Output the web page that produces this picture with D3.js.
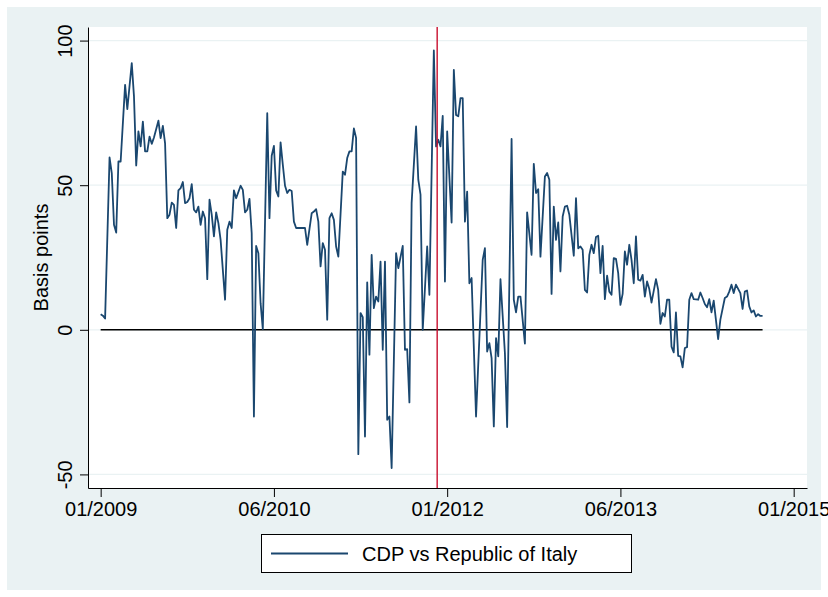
<!DOCTYPE html>
<html>
<head>
<meta charset="utf-8">
<script src="https://cdn.jsdelivr.net/npm/d3@7"></script>
<style>
  html, body { margin: 0; padding: 0; background: #ffffff; }
  svg { display: block; font-family: "Liberation Sans", Arial, Helvetica, sans-serif; }
</style>
</head>
<body>
<svg id="chart" width="828" height="597"></svg>
<script>
// Weekly spread, CDP bonds vs Republic of Italy (basis points).
// Weeks are counted from the first week of 2009 (52 weeks per year).
const weeks = [
  0, 1, 2, 4, 5, 6, 7, 8, 9, 11, 12, 14, 15, 16, 17, 18, 19, 20, 21, 22,
  23, 24, 26, 27, 28, 29, 30, 31, 32, 33, 34, 35, 36, 37, 38, 39, 40, 41, 42, 43,
  44, 45, 46, 47, 48, 49, 50, 51, 52, 53, 54, 56, 57, 58, 59, 60, 61, 63, 64, 65,
  66, 67, 68, 69, 70, 71, 72, 73, 75, 76, 77, 78, 79, 80, 81, 82, 83, 84, 85, 86,
  87, 88, 90, 92, 93, 95, 96, 97, 98, 99, 100, 101, 102, 103, 104, 105, 106, 107, 109, 110,
  111, 112, 113, 114, 115, 116, 117, 118, 119, 120, 121, 122, 123, 124, 125, 126, 127, 128, 129, 130,
  131, 133, 134, 136, 137, 138, 139, 140, 142, 143, 144, 145, 147, 148, 150, 151, 152, 153, 154, 155,
  156, 158, 159, 160, 161, 162, 163, 164, 165, 166, 167, 169, 172, 173, 174, 175, 176, 177, 178, 179,
  180, 182, 183, 185, 186, 187, 188, 189, 191, 192, 194, 195, 196, 197, 198, 200, 201, 202, 203, 204,
  205, 206, 207, 208, 209, 210, 211, 213, 214, 215, 216, 217, 218, 219, 220, 221, 222, 223, 224, 225,
  226, 227, 228, 229, 230, 231, 232, 233, 234, 235, 236, 237, 238, 239, 240, 241, 242, 243, 244, 245,
  246, 247, 248, 250, 251, 252, 253, 254, 255, 256, 257, 258, 259, 260, 261, 262, 263, 264, 265, 266,
  267, 268, 269, 270, 271, 272, 273, 274, 275, 276, 278, 279, 281, 282, 283, 284, 285, 286, 288, 289,
  290, 291, 292, 293, 294, 295, 296, 297, 298
];
const spread = [
  5.4, 4.9, 3.9, 59.6, 54.2, 36.3, 33.6, 58.2, 58.2, 84.7, 76.3, 92.2, 80.7, 56.8, 68.6, 63.4, 72.0, 61.7, 61.7, 66.8,
  64.3, 66.5, 72.3, 66.3, 70.5, 64.5, 38.6, 39.8, 44.0, 43.2, 35.2, 48.2, 49.0, 51.1, 43.8, 44.2, 45.5, 50.4, 41.5, 40.6,
  42.6, 36.3, 40.9, 38.6, 17.5, 45.0, 39.8, 32.3, 40.6, 36.9, 31.1, 10.4, 34.6, 37.4, 35.2, 48.2, 45.5, 49.8, 48.4, 40.6,
  41.5, 45.3, 33.4, -30.0, 29.0, 26.5, 9.2, 0.2, 74.9, 38.6, 60.2, 63.6, 48.2, 46.1, 64.8, 57.1, 49.8, 47.3, 48.4, 48.0,
  37.4, 35.2, 35.2, 35.2, 29.4, 40.3, 40.9, 41.7, 37.4, 21.9, 30.0, 27.7, 3.5, 38.6, 40.3, 38.0, 28.8, 25.3, 54.7, 53.6,
  59.4, 61.7, 61.7, 69.6, 66.3, -43.0, 5.8, 4.4, -36.9, 16.4, -8.6, 25.9, 7.5, 11.5, 9.8, 23.6, -6.9, 23.6, -31.1, -30.0,
  -47.8, 26.5, 21.3, 29.0, -6.9, -6.7, -25.1, 43.8, 70.3, 51.9, 46.7, 0.0, 28.8, 12.1, 96.6, 63.4, 65.7, 63.4, 74.0, 16.7,
  68.6, 37.1, 89.9, 74.3, 73.8, 80.1, 80.1, 37.4, 47.8, 16.1, 17.9, -30.0, 24.2, 28.2, -7.5, -4.6, -9.8, -33.4, -2.9, -9.2,
  17.5, -8.1, -33.6, 66.0, 10.4, 6.0, 11.5, 11.5, -4.8, 40.6, 25.9, 57.4, 47.3, 48.6, 25.3, 53.0, 54.2, 51.9, 12.4, 42.6,
  31.1, 37.1, 20.2, 39.2, 42.6, 42.9, 39.8, 25.6, 45.5, 28.2, 28.8, 27.7, 13.8, 12.9, 25.9, 29.4, 26.5, 32.1, 32.5, 19.6,
  29.0, 10.6, 18.7, 13.2, 12.1, 24.8, 24.5, 19.6, 8.6, 12.4, 27.1, 22.5, 29.4, 24.2, 16.1, 32.3, 17.3, 17.0, 19.0, 11.5,
  16.7, 14.1, 9.4, 17.5, 13.8, 2.1, 5.8, 4.6, 10.4, 10.4, -5.8, -7.8, 6.0, -9.0, -9.2, -13.0, -6.3, -6.0, 10.4, 12.7,
  10.6, 10.5, 10.4, 12.9, 11.0, 8.9, 7.8, 10.6, 6.0, 10.1, -3.2, 3.5, 11.0, 11.5, 13.2, 15.6, 12.7, 15.6, 12.7, 7.2,
  13.2, 13.6, 8.1, 6.0, 6.7, 4.6, 5.4, 4.8, 4.8
];

// Axis ticks
const yTicks = [-50, 0, 50, 100];
const xTicks = [0, 78, 156, 234, 312];
const xTickLabels = ["01/2009", "06/2010", "01/2012", "06/2013", "01/2015"];

// Week marked by the vertical reference line
const eventWeek = [151.5];
const seriesName = "CDP vs Republic of Italy";
const yTitle = "Basis points";

const W = 828, H = 597;
const plot = { left: 88, right: 807, top: 27, bottom: 488 };
const navy = "#1a476f";
const bg = "#eaf2f3";

const svg = d3.select("#chart");

// Outer graph region
svg.append("rect").attr("x", 0).attr("y", 0).attr("width", W).attr("height", H).attr("fill", "#ffffff");
svg.append("rect").attr("x", 7).attr("y", 7).attr("width", 814).attr("height", 583).attr("fill", bg);
// Plot region
svg.append("rect")
  .attr("x", plot.left).attr("y", plot.top)
  .attr("width", plot.right - plot.left).attr("height", plot.bottom - plot.top)
  .attr("fill", "#ffffff");

const x = d3.scaleLinear().domain([-5.7, 318]).range([plot.left, plot.right]);
const y = d3.scaleLinear().domain([-54.7, 104.7]).range([plot.bottom, plot.top]);

// Horizontal grid lines
svg.append("g").selectAll("line").data(yTicks).join("line")
  .attr("x1", plot.left).attr("x2", plot.right)
  .attr("y1", d => y(d)).attr("y2", d => y(d))
  .attr("stroke", bg).attr("stroke-width", 1.2);

// Y axis (plain hyphen for negative labels)
const yAxis = svg.append("g")
  .attr("transform", `translate(${plot.left},0)`)
  .call(d3.axisLeft(y).tickValues(yTicks).tickSize(8).tickSizeOuter(0).tickFormat(d => String(d)));
yAxis.select(".domain").attr("stroke", "#000").attr("stroke-width", 1);
yAxis.selectAll(".tick line").attr("stroke", "#000").attr("stroke-width", 1);
yAxis.selectAll(".tick text")
  .attr("font-size", 20).attr("fill", "#000")
  .attr("text-anchor", "middle")
  .attr("x", null).attr("dy", null)
  .attr("transform", "translate(-16.5,0) rotate(-90)")
  .attr("y", 0);

// X axis
const xAxis = svg.append("g")
  .attr("transform", `translate(0,${plot.bottom})`)
  .call(d3.axisBottom(x).tickValues(xTicks).tickSize(9).tickSizeOuter(0)
    .tickFormat((d, i) => xTickLabels[i]));
xAxis.select(".domain").attr("stroke", "#000").attr("stroke-width", 1);
xAxis.selectAll(".tick line").attr("stroke", "#000").attr("stroke-width", 1);
xAxis.selectAll(".tick text")
  .attr("font-size", 20).attr("fill", "#000")
  .attr("y", 28).attr("dy", null);

// Y axis title
svg.append("text")
  .attr("transform", `translate(47.5,${(plot.top + plot.bottom) / 2}) rotate(-90)`)
  .attr("text-anchor", "middle")
  .attr("font-size", 20).attr("fill", "#000")
  .text(yTitle);

// Zero reference line across the data span
svg.append("line")
  .attr("x1", x(d3.min(weeks))).attr("x2", x(d3.max(weeks)))
  .attr("y1", y(0)).attr("y2", y(0))
  .attr("stroke", "#000").attr("stroke-width", 1.6);

// Series line
const pts = weeks.map((w, i) => [w, spread[i]]);
svg.append("path")
  .datum(pts)
  .attr("fill", "none")
  .attr("stroke", navy)
  .attr("stroke-width", 1.8)
  .attr("stroke-linejoin", "round")
  .attr("d", d3.line().x(d => x(d[0])).y(d => y(d[1])));

// Vertical event line
svg.append("g").selectAll("line").data(eventWeek).join("line")
  .attr("x1", d => x(d)).attr("x2", d => x(d))
  .attr("y1", plot.top).attr("y2", plot.bottom)
  .attr("stroke", "#c8102e").attr("stroke-width", 1.4);

// Legend
const lg = svg.append("g");
lg.append("rect")
  .attr("x", 261.5).attr("y", 534.5).attr("width", 370).attr("height", 38)
  .attr("fill", "#ffffff").attr("stroke", "#000").attr("stroke-width", 1);
lg.append("line")
  .attr("x1", 271).attr("x2", 348).attr("y1", 553.5).attr("y2", 553.5)
  .attr("stroke", navy).attr("stroke-width", 2);
lg.append("text")
  .attr("x", 362).attr("y", 561)
  .attr("font-size", 20).attr("fill", "#000")
  .text(seriesName);
</script>
</body>
</html>
